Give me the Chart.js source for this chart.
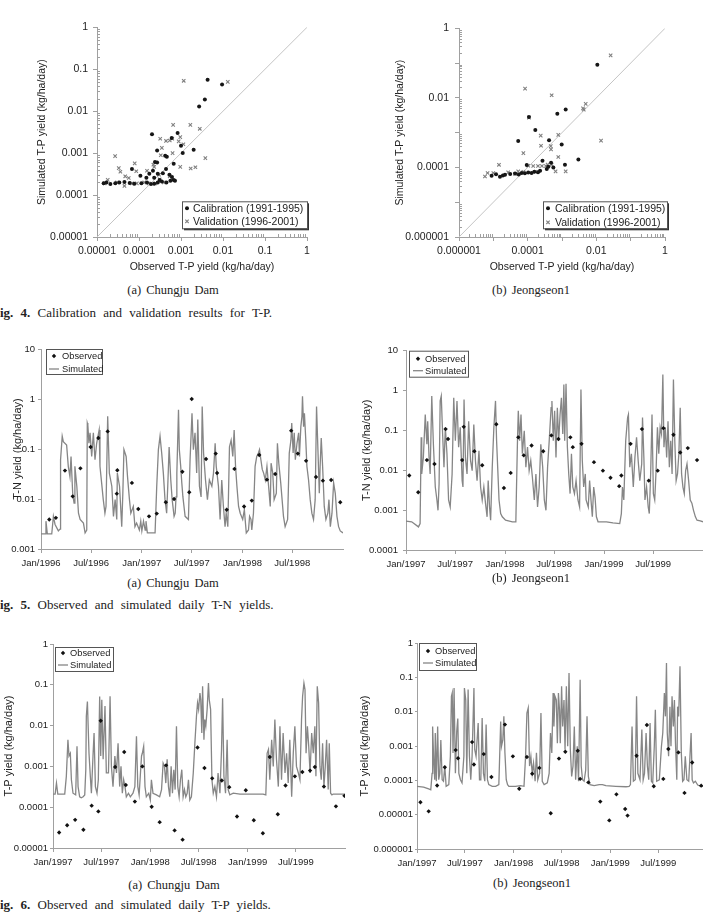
<!DOCTYPE html>
<html>
<head>
<meta charset="utf-8">
<script src="https://cdn.jsdelivr.net/npm/chart.js@4.4.1/dist/chart.umd.min.js"></script>
<style>
  body { margin: 0; width: 703px; height: 919px; overflow: hidden; background: #fff; position: relative;
         font-family: "Liberation Serif", "Times New Roman", serif; color: #222; }
  canvas { position: absolute; }
  .sub { position: absolute; width: 200px; text-align: center; font-size: 12.5px; word-spacing: 2px; line-height: 16px; }
  .fig { position: absolute; left: -8px; font-size: 13px; word-spacing: 4px; line-height: 16px; white-space: nowrap; }
</style>
</head>
<body>
<canvas id="fig4a"></canvas>
<canvas id="fig4b"></canvas>
<canvas id="fig5a"></canvas>
<canvas id="fig5b"></canvas>
<canvas id="fig6a"></canvas>
<canvas id="fig6b"></canvas>

<div class="sub" style="left:73px; top:282px">(a)  Chungju  Dam</div>
<div class="sub" style="left:431px; top:282px">(b)  Jeongseon1</div>
<div class="fig" style="top:305px"><b>Fig. 4.</b> Calibration and validation results for T-P.</div>
<div class="sub" style="left:73px; top:575px">(a)  Chungju  Dam</div>
<div class="sub" style="left:431px; top:570px">(b)  Jeongseon1</div>
<div class="fig" style="top:597px"><b>Fig. 5.</b> Observed and simulated daily T-N yields.</div>
<div class="sub" style="left:74px; top:877px">(a)  Chungju  Dam</div>
<div class="sub" style="left:432px; top:875px">(b)  Jeongseon1</div>
<div class="fig" style="top:897px"><b>Fig. 6.</b> Observed and simulated daily T-P yields.</div>

<script>
// Fig. 4 - [observed, simulated] T-P yield (kg/ha/day)
const tpCalibChungju = [
  [2.04e-4,2.8e-3],[4.3e-3,5.6e-2],[9.5e-3,4.3e-2],[3.7e-3,1.9e-2],[2.7e-3,1.3e-2],[2.0e-3,1.2e-3],
  [8.3e-4,3.0e-3],[6.0e-4,2.3e-3],[1.0e-3,1.5e-3],[1.1e-3,1.0e-3],[2.7e-4,1.15e-3],[4.2e-4,8.6e-4],
  [4.6e-4,8.2e-4],[6.7e-4,5.6e-4],[6.8e-5,4.2e-4],[2.4e-4,6.1e-4],[2.7e-4,6.0e-4],[2.15e-4,3.8e-4],
  [1.08e-4,2.9e-4],[1.5e-4,2.6e-4],[2.8e-4,3.2e-4],[3.7e-4,3.3e-4],[4.4e-4,4.2e-4],[5.3e-4,3.05e-4],
  [6.1e-4,2.7e-4],[6.7e-4,2.3e-4],[4.5e-4,2.0e-4],[3.1e-4,2.3e-4],[1.44e-5,1.9e-4],[1.67e-5,2.0e-4],
  [2.08e-5,1.84e-4],[2.73e-5,1.9e-4],[3.4e-5,2.0e-4],[4.5e-5,2.05e-4],[6.0e-5,1.95e-4],[7.7e-5,1.85e-4],
  [1.14e-4,1.9e-4],[1.55e-4,2.0e-4],[1.93e-4,1.84e-4],[2.3e-4,1.85e-4],[2.8e-4,2.0e-4],[3.5e-4,2.1e-4],
  [5.6e-4,2.2e-4],[7.2e-4,2.2e-4],[2.3e-4,2.6e-4],[1.76e-4,3.2e-4]
];
const tpValidChungju = [
  [1.16e-3,5.3e-2],[1.3e-2,5.0e-2],[6.5e-4,4.7e-3],[1.67e-3,4.7e-3],[2.8e-3,3.8e-3],[3.2e-4,2.2e-3],
  [4.4e-4,1.95e-3],[5.4e-4,2.0e-3],[6.2e-4,2.2e-3],[9.6e-4,2.4e-3],[8.8e-4,1.9e-3],[1.14e-3,1.63e-3],
  [3.5e-4,1.33e-3],[3.3e-4,8.9e-4],[6.3e-4,1.0e-3],[9.6e-4,4.7e-4],[1.7e-3,4.3e-4],[2.2e-3,4.6e-4],
  [3.8e-3,7.6e-4],[2.7e-5,8.5e-4],[3.3e-5,4.4e-4],[3.6e-5,3.6e-4],[7.9e-5,5.7e-4],[8.6e-5,3.7e-4],
  [1.55e-4,3.8e-4],[2.2e-4,5.3e-4],[2.3e-4,4.7e-4],[3.0e-4,3.05e-4],[3.1e-4,2.37e-4],[1.52e-5,1.9e-4],
  [1.8e-5,2.3e-4],[4.7e-5,2.8e-4],[4.5e-5,1.65e-4],[5.7e-5,2.55e-4],[8.9e-5,1.9e-4],[1.33e-4,2.0e-4],
  [1.7e-4,1.9e-4],[3.9e-4,2.0e-4],[5.4e-4,2.8e-4],[3.0e-5,2.0e-4],[6.8e-5,1.9e-4],[2.45e-4,1.9e-4]
];
const tpCalibJeongseon = [
  [1.07e-2,8.96e-2],[5.3e-5,5.8e-4],[1.09e-4,2.8e-3],[1.67e-4,1.19e-3],[7.3e-4,3.5e-3],[1.28e-3,4.6e-3],
  [4.2e-4,6.0e-4],[9.8e-4,4.6e-4],[2.7e-4,1.55e-4],[3.0e-3,1.69e-4],[1.22e-3,1.19e-4],[9.4e-5,1.17e-4],
  [4.8e-4,1.36e-4],[4.0e-4,1.04e-4],[8.9e-6,5.8e-5],[1.56e-5,5.4e-5],[2.19e-5,6.2e-5],[3.1e-5,6.5e-5],
  [4.3e-5,6.7e-5],[6.7e-5,6.9e-5],[1.04e-4,7.2e-5],[1.56e-4,7.5e-5],[2.3e-4,8.0e-5],[3.6e-4,9.0e-5],
  [5.6e-4,1.0e-4],[1.2e-5,6.4e-5],[1.9e-5,5.9e-5],[5.5e-5,6.3e-5],[8.3e-5,6.8e-5],[1.3e-4,6.9e-5],
  [2.0e-4,7.3e-5]
];
const tpValidJeongseon = [
  [2.61e-2,1.66e-1],[8.4e-5,1.85e-2],[5.0e-4,1.19e-2],[4.9e-3,6.7e-3],[4.1e-3,5.0e-3],[4.3e-3,4.6e-3],
  [1.09e-4,2.7e-3],[2.4e-4,8.2e-4],[7.8e-4,8.6e-4],[2.45e-4,4.2e-4],[4.7e-4,4.1e-4],[4.8e-4,3.3e-4],
  [1.37e-2,5.9e-4],[7.5e-5,2.57e-4],[7.8e-4,2.0e-4],[1.46e-5,1.19e-4],[1.28e-3,7.7e-5],[6.5e-4,7.7e-5],
  [5.7e-6,5.5e-5],[6.8e-6,6.9e-5],[1.0e-5,6.9e-5],[1.04e-4,1.12e-4],[1.45e-4,1.1e-4],[2.0e-4,1.1e-4],
  [2.6e-4,1.1e-4],[3.4e-4,1.1e-4],[3.8e-4,1.2e-4],[5.0e-4,1.2e-4],[5.3e-5,7.7e-5],[7.5e-5,7.5e-5],
  [1.7e-4,7.5e-5],[2.7e-5,7.2e-5],[4.3e-5,6.5e-5]
];
const oneToOneChungju = [[1e-5, 1e-5], [1, 1]];
const oneToOneJeongseon = [[1e-6, 1e-6], [1, 1]];

// Fig. 5 - T-N yield, [day from 1 Jan of first year, kg/ha/day]
const tnObsChungju = [
  [30,0.0039],[54,0.0042],[87,0.037],[115,0.0113],[143,0.041],[180,0.11],[208,0.166],[242,0.225],
  [275,0.0128],[277,0.0375],[330,0.021],[353,0.0063],[392,0.0045],[420,0.0051],[453,0.0086],[483,0.01],
  [513,0.035],[538,0.0136],[547,1.0],[599,0.063],[634,0.081],[639,0.033],[674,0.0061],[702,0.04],
  [737,0.0071],[765,0.0093],[792,0.076],[820,0.0244],[850,0.0316],[908,0.233],[932,0.081],[962,0.058],
  [998,0.0275],[1023,0.0233],[1053,0.024],[1086,0.0086]
];
const tnSimChungju = [
  [0,0.002],[15,0.002],[18,0.0036],[23,0.002],[39,0.002],[45,0.0045],[51,0.0031],[63,0.0023],[69,0.0025],
  [71,0.061],[77,0.18],[81,0.14],[93,0.12],[99,0.045],[105,0.028],[109,0.071],[115,0.013],[120,0.0083],
  [123,0.045],[130,0.018],[136,0.0052],[142,0.0039],[154,0.0033],[160,0.0021],[166,0.0024],[168,0.33],
  [170,0.3],[174,0.13],[178,0.21],[184,0.071],[190,0.21],[196,0.061],[202,0.13],[211,0.24],[214,0.045],
  [220,0.021],[226,0.0097],[232,0.0052],[236,0.0071],[242,0.45],[248,0.033],[257,0.018],[263,0.0045],
  [269,0.0097],[275,0.0039],[277,0.033],[285,0.018],[293,0.0028],[297,0.013],[301,0.097],[309,0.071],
  [314,0.028],[321,0.0097],[326,0.0052],[335,0.0071],[341,0.0028],[347,0.0033],[357,0.0024],[362,0.0036],
  [366,0.0023],[372,0.0036],[378,0.0024],[381,0.0036],[386,0.0021],[414,0.0021],[420,0.018],[426,0.097],
  [432,0.18],[438,0.083],[444,0.033],[450,0.0097],[456,0.0052],[460,0.018],[465,0.11],[471,0.024],
  [476,0.0097],[483,0.0045],[487,0.0052],[490,0.011],[493,0.033],[499,0.61],[502,0.097],[507,0.045],
  [511,0.021],[515,0.011],[523,0.0045],[535,0.0039],[541,0.061],[548,0.52],[553,0.097],[559,0.21],
  [565,0.033],[569,0.39],[575,0.018],[581,0.011],[585,0.71],[590,0.083],[597,0.024],[604,0.0097],
  [611,0.024],[620,0.018],[626,0.033],[632,0.13],[636,0.045],[644,0.018],[650,0.0039],[656,0.024],
  [662,0.0071],[668,0.0028],[672,0.0052],[678,0.0028],[684,0.11],[690,0.15],[696,0.071],[701,0.24],
  [706,0.045],[711,0.018],[717,0.0071],[723,0.0052],[732,0.0039],[738,0.0061],[745,0.0021],[753,0.0024],
  [757,0.0045],[762,0.0039],[765,0.0024],[771,0.0052],[777,0.045],[783,0.071],[789,0.083],[793,0.097],
  [798,0.061],[803,0.039],[808,0.033],[814,0.024],[820,0.045],[826,0.018],[832,0.0071],[835,0.052],
  [841,0.033],[846,0.0097],[854,0.013],[858,0.13],[863,0.052],[870,0.021],[880,0.0045],[886,0.0028],
  [895,0.0039],[901,0.083],[907,0.15],[910,0.33],[915,0.083],[919,0.21],[923,0.061],[929,0.13],
  [935,0.21],[938,0.071],[943,0.28],[947,0.45],[949,1.13],[953,0.28],[956,0.52],[961,0.15],[965,0.045],
  [971,0.024],[977,0.0097],[983,0.0052],[989,0.0039],[995,0.0097],[1000,0.71],[1005,0.097],[1010,0.013],
  [1013,0.045],[1017,0.166],[1022,0.045],[1028,0.0071],[1034,0.0039],[1041,0.0052],[1045,0.0097],
  [1050,0.0028],[1056,0.0052],[1062,0.021],[1068,0.013],[1074,0.0045],[1080,0.0028],[1086,0.0023],
  [1096,0.0021]
];
const tnObsJeongseon = [
  [12,0.0074],[45,0.0028],[77,0.018],[105,0.0144],[146,0.108],[155,0.061],[207,0.018],[213,0.123],
  [252,0.030],[281,0.0134],[333,0.143],[361,0.0036],[386,0.0086],[414,0.067],[434,0.0237],[463,0.042],
  [506,0.030],[536,0.075],[562,0.061],[606,0.067],[615,0.038],[647,0.046],[693,0.016],[726,0.0098],
  [754,0.0065],[786,0.004],[794,0.0074],[828,0.046],[870,0.108],[895,0.0055],[928,0.0098],[949,0.114],
  [986,0.078],[1011,0.028],[1039,0.036],[1073,0.018]
];
const tnSimJeongseon = [
  [0,0.00053],[21,0.00051],[46,0.00038],[52,0.00046],[56,0.067],[58,0.0081],[64,0.021],[71,0.25],
  [77,0.045],[80,0.17],[85,0.021],[89,0.0081],[95,0.73],[101,0.045],[108,0.0038],[114,0.0018],
  [118,0.00099],[122,0.0046],[126,0.55],[130,0.73],[135,0.081],[140,0.012],[145,0.12],[151,0.026],
  [157,0.0018],[163,0.0012],[170,0.0081],[176,0.66],[182,0.055],[188,0.55],[194,0.038],[200,0.12],
  [207,0.0055],[210,0.0038],[214,0.60],[219,0.021],[225,0.0081],[231,0.17],[238,0.0175],[244,0.0098],
  [250,0.14],[256,0.0175],[262,0.0055],[269,0.031],[275,0.0038],[281,0.0018],[287,0.0038],[293,0.0015],
  [299,0.00068],[303,0.0055],[308,0.0012],[312,0.00056],[318,0.012],[324,0.12],[330,0.55],[334,0.055],
  [338,0.012],[343,0.0018],[349,0.00082],[355,0.00068],[367,0.00056],[392,0.00051],[405,0.00051],
  [407,0.0026],[411,0.055],[414,0.31],[419,0.055],[424,0.25],[429,0.026],[436,0.098],[442,0.012],
  [448,0.038],[454,0.0098],[460,0.0175],[466,0.0067],[473,0.0018],[479,0.0081],[485,0.0012],[491,0.0038],
  [497,0.045],[504,0.012],[510,0.0018],[516,0.00099],[522,0.012],[528,0.055],[535,0.37],[538,0.55],
  [543,0.055],[548,0.31],[553,0.021],[558,0.37],[563,0.055],[568,0.25],[573,0.66],[578,0.081],[582,1.42],
  [585,0.055],[590,1.48],[595,0.038],[600,0.0081],[605,0.0026],[610,0.026],[615,0.0038],[621,0.0026],
  [627,0.0055],[634,0.0018],[640,0.0012],[645,1.07],[650,0.0175],[655,0.0038],[661,0.0081],[664,0.0018],
  [672,0.0012],[677,0.0055],[682,0.0018],[687,0.00068],[692,0.0038],[697,0.0021],[702,0.00068],
  [708,0.00051],[739,0.00051],[763,0.00048],[788,0.00046],[794,0.00082],[798,0.0038],[803,0.0018],
  [810,0.055],[817,0.21],[820,0.25],[825,0.012],[831,0.026],[838,0.0038],[844,0.021],[850,0.067],
  [856,0.0175],[862,0.0055],[869,0.0144],[872,0.21],[877,0.021],[881,0.0018],[887,0.0038],[893,0.0012],
  [897,0.00082],[902,0.0081],[907,0.25],[912,0.0026],[917,0.0018],[922,0.0098],[927,0.12],[932,0.026],
  [937,0.12],[942,0.081],[947,2.52],[951,0.038],[956,0.12],[961,0.021],[966,0.17],[971,0.012],[976,0.055],
  [981,0.0081],[986,1.89],[991,0.055],[996,0.0055],[1001,0.0081],[1006,0.026],[1011,0.37],[1016,0.0081],
  [1021,0.0038],[1026,0.0026],[1031,0.0098],[1036,0.0144],[1042,0.0055],[1048,0.0018],[1054,0.0015],
  [1060,0.00099],[1067,0.00068],[1073,0.00056],[1085,0.00054],[1095,0.00051]
];

// Fig. 6 - T-P yield, [day from 1 Jan 1997, kg/ha/day]
const tpObsChungju = [
  [23,2.4e-5],[53,3.6e-5],[83,4.9e-5],[114,2.8e-5],[145,1.09e-4],[170,7.9e-5],[179,0.0132],[233,9.7e-4],
  [267,2.25e-3],[273,3.5e-4],[307,1.37e-4],[335,1.0e-3],[370,1.03e-4],[400,4.3e-5],[424,1.06e-3],
  [456,2.7e-5],[486,1.6e-5],[542,2.9e-3],[568,9.1e-4],[597,5.1e-4],[633,4.5e-4],[661,3.1e-4],[690,5.9e-5],
  [723,2.6e-4],[753,4.8e-5],[787,2.3e-5],[813,1.7e-3],[843,6.7e-5],[872,3.4e-4],[907,5.7e-4],[935,7.3e-4],
  [964,7.9e-4],[982,9.7e-4],[1016,3.2e-4],[1061,1.05e-4],[1093,1.9e-4]
];
const tpSimChungju = [
  [0,0.00021],[8,0.00021],[13,0.00039],[18,0.00021],[44,0.00021],[50,0.00057],[56,0.0045],[60,0.0018],
  [65,0.0021],[69,0.00047],[75,0.00022],[85,0.0002],[90,0.0031],[94,0.00032],[100,0.00018],[106,0.00017],
  [113,0.00018],[119,0.0002],[123,0.00083],[125,0.017],[129,0.039],[135,0.0021],[140,0.00057],[144,0.00022],
  [150,0.0018],[154,0.0066],[159,0.00032],[165,0.00022],[170,0.00047],[175,0.052],[179,0.0018],[183,0.043],
  [188,0.0015],[195,0.030],[200,0.00069],[208,0.00069],[214,0.052],[219,0.001],[225,0.00032],[232,0.0018],
  [238,0.00069],[244,0.0037],[250,0.00032],[255,0.001],[260,0.00022],[265,0.00047],[270,0.00032],
  [275,0.00018],[283,0.00022],[290,0.00018],[300,0.00022],[307,0.00032],[313,0.0055],[318,0.00032],
  [323,0.0002],[328,0.00069],[332,0.0018],[335,0.0021],[340,0.0031],[345,0.00032],[350,0.00018],
  [359,0.00022],[365,0.00015],[369,0.00047],[375,0.00022],[388,0.0002],[400,0.00018],[407,0.00027],
  [413,0.0012],[418,0.001],[423,0.00039],[428,0.0015],[433,0.00032],[438,0.00018],[443,0.001],[448,0.00022],
  [453,0.00083],[458,0.00027],[463,0.0096],[468,0.00032],[473,0.00018],[478,0.00047],[483,0.00083],
  [488,0.00018],[493,0.00027],[498,0.00018],[503,0.00022],[508,0.00047],[513,0.00015],[519,0.00018],
  [526,0.00069],[532,0.0037],[538,0.017],[542,0.036],[546,0.025],[551,0.063],[554,0.043],[558,0.0066],
  [561,0.092],[566,0.0045],[569,0.014],[573,0.0096],[578,0.025],[583,0.11],[586,0.043],[591,0.025],
  [596,0.00047],[601,0.00022],[607,0.00032],[613,0.00018],[619,0.00069],[626,0.00022],[632,0.0026],
  [636,0.047],[641,0.00057],[647,0.00022],[653,0.0045],[657,0.00027],[663,0.0002],[676,0.00022],
  [701,0.00021],[788,0.00021],[798,0.0002],[803,0.0021],[808,0.0026],[813,0.00047],[820,0.0045],
  [826,0.001],[832,0.014],[838,0.0015],[845,0.00032],[851,0.0096],[857,0.00047],[863,0.0066],[870,0.00069],
  [876,0.0021],[882,0.00039],[888,0.0045],[895,0.00018],[901,0.0021],[907,0.0096],[913,0.001],[920,0.00069],
  [926,0.00047],[932,0.014],[936,0.052],[941,0.11],[945,0.076],[949,0.0021],[954,0.0096],[959,0.0031],
  [964,0.00069],[970,0.0066],[976,0.0021],[982,0.0096],[986,0.00057],[991,0.092],[996,0.036],[1001,0.001],
  [1006,0.00047],[1011,0.0037],[1016,0.00032],[1021,0.001],[1026,0.0045],[1032,0.00027],[1036,0.0037],
  [1041,0.00022],[1046,0.0002],[1051,0.00021],[1095,0.00021]
];
const tpObsJeongseon = [
  [13,2.3e-5],[44,1.25e-5],[76,7.1e-5],[105,2.4e-4],[146,7.6e-4],[155,4.4e-4],[208,1.3e-3],[215,2.9e-4],
  [252,5.8e-4],[281,1.25e-4],[332,4.2e-3],[362,5.0e-4],[386,5.7e-5],[415,4.8e-4],[435,1.56e-4],[462,2.3e-4],
  [505,1.1e-5],[536,4.3e-4],[560,6.8e-4],[607,7.3e-4],[616,1.1e-4],[647,8.7e-5],[692,2.4e-5],[726,6.8e-6],
  [753,3.9e-5],[786,1.46e-5],[795,9.4e-6],[829,5.2e-4],[868,4.1e-3],[894,6.7e-5],[930,1.1e-4],[949,8.2e-4],
  [987,6.5e-4],[1010,4.3e-5],[1039,3.3e-4],[1073,7.0e-5]
];
const tpSimJeongseon = [
  [0,6.7e-5],[25,6.3e-5],[44,5.6e-5],[52,5.3e-5],[57,1.6e-4],[59,0.0037],[63,4.0e-4],[67,1.04e-4],
  [69,0.0024],[73,9.4e-5],[78,0.0037],[82,1.04e-4],[86,1.6e-4],[90,0.0015],[95,1.04e-4],[100,9.4e-5],
  [105,2.6e-4],[110,6.7e-5],[120,7.5e-5],[126,5.0e-4],[130,0.028],[133,0.035],[136,6.3e-4],[140,0.049],
  [145,1.6e-4],[150,0.0027],[154,0.0063],[158,1.6e-4],[164,1.04e-4],[170,8.4e-5],[177,5.0e-4],[179,0.049],
  [184,0.022],[188,1.6e-4],[193,0.044],[198,5.0e-4],[203,1.04e-4],[208,5.0e-4],[215,0.049],[218,7.8e-4],
  [223,5.0e-4],[231,0.0047],[236,1.04e-4],[241,1.04e-4],[246,0.0065],[251,1.6e-4],[256,9.4e-5],[261,0.0042],
  [266,1.04e-4],[271,7.5e-5],[284,6.7e-5],[297,6.7e-5],[309,7.5e-5],[316,0.0052],[319,9.8e-4],[324,0.0015],
  [328,0.0073],[332,6.3e-4],[337,1.04e-4],[342,7.5e-5],[347,6.7e-5],[372,6.7e-5],[391,7.0e-5],[404,6.7e-5],
  [410,5.0e-4],[415,0.0091],[420,0.0128],[425,2.6e-4],[430,5.0e-4],[435,1.6e-4],[440,3.2e-4],[446,9.4e-5],
  [451,6.3e-4],[456,1.04e-4],[463,1.6e-4],[468,0.0091],[473,9.4e-5],[480,7.5e-5],[492,8.4e-5],[499,1.6e-4],
  [504,0.0024],[509,6.3e-4],[514,0.035],[517,0.0037],[521,0.028],[526,0.022],[530,0.0012],[534,0.035],
  [538,0.0114],[541,0.0012],[546,0.055],[550,0.0037],[555,0.022],[559,7.8e-4],[564,0.055],[569,9.8e-4],
  [574,0.134],[579,7.8e-4],[584,1.3e-4],[589,2.6e-4],[594,0.0037],[599,1.04e-4],[605,9.8e-4],[610,9.4e-5],
  [616,0.085],[620,2.6e-4],[625,1.04e-4],[631,9.4e-5],[637,2.0e-4],[642,0.0073],[647,1.3e-4],[653,7.5e-5],
  [669,7.0e-5],[688,7.5e-5],[700,7.5e-5],[713,7.0e-5],[751,6.7e-5],[789,6.5e-5],[801,6.7e-5],[806,7.5e-5],
  [812,0.0037],[817,9.4e-5],[824,1.04e-4],[829,0.028],[834,1.6e-4],[842,1.04e-4],[849,0.003],[854,1.04e-4],
  [859,1.6e-4],[865,0.0024],[870,2.6e-4],[875,1.04e-4],[880,0.0047],[885,9.4e-5],[890,8.4e-5],[896,9.8e-4],
  [900,0.0114],[905,9.4e-5],[915,1.04e-4],[923,9.8e-4],[928,0.0024],[934,0.035],[938,0.0073],[942,0.26],
  [945,0.0024],[950,5.0e-4],[955,0.014],[959,9.8e-4],[963,0.028],[968,0.0037],[972,0.022],[976,0.0012],
  [981,1.04e-4],[984,0.014],[988,0.0073],[993,0.21],[998,6.3e-4],[1003,9.4e-5],[1008,1.04e-4],[1013,5.0e-4],
  [1019,1.04e-4],[1026,9.4e-5],[1035,0.0024],[1039,1.04e-4],[1044,8.4e-5],[1051,9.4e-5],[1060,7.3e-5],
  [1073,6.7e-5],[1095,6.7e-5]
];

const ticks9698 = ['Jan/1996', 'Jul/1996', 'Jan/1997', 'Jul/1997', 'Jan/1998', 'Jul/1998'];
const ticks9799 = ['Jan/1997', 'Jul/1997', 'Jan/1998', 'Jul/1998', 'Jan/1999', 'Jul/1999'];

const AXIS = '#a0a0a0';
const TEXT = '#222';
const SANS = "'Liberation Sans', Arial, sans-serif";

Chart.defaults.font.family = SANS;
Chart.defaults.color = TEXT;

function toXY(pairs) {
  return pairs.map(p => ({ x: p[0], y: p[1] }));
}

function decadeLabel(e) {
  return e >= 0 ? String(Math.pow(10, e)) : Number('1e' + e).toFixed(-e);
}

function dayOf(label, startYear) {
  const [mon, year] = label.split('/');
  return (Date.UTC(+year, mon === 'Jan' ? 0 : 6, 1) - Date.UTC(startYear, 0, 1)) / 864e5;
}

function place(id, left, top, width, height) {
  const c = document.getElementById(id);
  c.width = width;
  c.height = height;
  c.style.left = left + 'px';
  c.style.top = top + 'px';
  return c;
}

function logAxis(minExp, maxExp, labelStep, o) {
  const exps = [];
  for (let e = minExp; e <= maxExp; e++) exps.push(e);
  return {
    type: 'logarithmic',
    min: Number('1e' + minExp),
    max: Number('1e' + maxExp),
    border: { color: AXIS },
    grid: { drawOnChartArea: false, color: AXIS, tickLength: o.tickLength },
    ticks: {
      padding: o.padding, color: TEXT, font: { size: o.size }, autoSkip: false, maxRotation: 0,
      callback: v => {
        const e = Math.round(Math.log10(v));
        return (e - minExp) % labelStep === 0 ? decadeLabel(e) : '';
      }
    },
    title: o.title
      ? { display: true, text: o.title, color: TEXT, font: { size: o.titleSize }, padding: o.titlePad }
      : { display: false },
    afterBuildTicks: s => { s.ticks = exps.map(e => ({ value: Number('1e' + e) })); },
    afterFit: s => {
      if (o.width) s.width = o.width;
      if (o.height) s.height = o.height;
    }
  };
}

function timeAxis(startYear, days, labels, o) {
  const pos = labels.map(l => dayOf(l, startYear));
  return {
    type: 'linear',
    min: 0,
    max: days,
    border: { color: AXIS },
    grid: { drawOnChartArea: false, color: AXIS, tickLength: o.tickLength },
    ticks: {
      padding: o.padding, color: TEXT, font: { size: o.size }, autoSkip: false, maxRotation: 0,
      callback: (v, i) => labels[i]
    },
    afterBuildTicks: s => { s.ticks = pos.map(v => ({ value: v })); },
    afterFit: s => { s.height = o.height; }
  };
}

// box legend drawn inside the plot area, offsets relative to chartArea
const boxLegend = {
  id: 'boxLegend',
  afterDraw(chart, args, opts) {
    if (!opts || !opts.w) return;
    const { ctx, chartArea } = chart;
    const x = chartArea.left + opts.x;
    const y = chartArea.top + opts.y;
    ctx.save();
    if (opts.shadow) {
      ctx.fillStyle = '#333';
      ctx.fillRect(x + 2, y + 2, opts.w, opts.h);
    }
    ctx.fillStyle = '#fff';
    ctx.fillRect(x, y, opts.w, opts.h);
    ctx.strokeStyle = '#555';
    ctx.lineWidth = 1;
    ctx.strokeRect(x + 0.5, y + 0.5, opts.w, opts.h);
    ctx.font = opts.size + 'px ' + SANS;
    ctx.textBaseline = 'middle';
    const items = chart.data.datasets.filter(d => d.label);
    items.forEach((ds, i) => {
      const cy = y + opts.rows[i];
      const mx = x + opts.markX;
      if (ds.showLine) {
        ctx.strokeStyle = ds.borderColor;
        ctx.lineWidth = ds.borderWidth;
        ctx.beginPath();
        ctx.moveTo(mx - 5, cy);
        ctx.lineTo(mx + 5, cy);
        ctx.stroke();
      } else {
        ctx.fillStyle = ds.backgroundColor;
        ctx.strokeStyle = ds.borderColor;
        ctx.lineWidth = ds.borderWidth;
        Chart.helpers.drawPoint(ctx, {
          pointStyle: ds.pointStyle, radius: ds.pointRadius, borderWidth: ds.borderWidth, rotation: 0
        }, mx, cy);
      }
      ctx.fillStyle = TEXT;
      ctx.fillText(ds.label, x + opts.textX, cy + 0.5);
    });
    ctx.restore();
  }
};

// small inside minor ticks on log axes (scatter plots)
const minorTicks = {
  id: 'minorTicks',
  afterDraw(chart, args, opts) {
    if (!opts || !opts.len) return;
    const { ctx, chartArea } = chart;
    ctx.save();
    ctx.strokeStyle = AXIS;
    ctx.lineWidth = 1;
    ['x', 'y'].forEach(id => {
      const s = chart.scales[id];
      const e0 = Math.round(Math.log10(s.min));
      const e1 = Math.round(Math.log10(s.max));
      for (let e = e0; e < e1; e++) {
        for (let k = 2; k <= 9; k++) {
          const p = Math.round(s.getPixelForValue(k * Math.pow(10, e))) + 0.5;
          ctx.beginPath();
          if (id === 'x') {
            ctx.moveTo(p, chartArea.bottom);
            ctx.lineTo(p, chartArea.bottom - opts.len);
          } else {
            ctx.moveTo(chartArea.left, p);
            ctx.lineTo(chartArea.left + opts.len, p);
          }
          ctx.stroke();
        }
      }
    });
    ctx.restore();
  }
};

Chart.register(boxLegend, minorTicks);

function scatterFig(id, geo, calib, valid, diag, axes, legend) {
  const canvas = place(id, geo.left, geo.top, geo.width, geo.height);
  return new Chart(canvas, {
    type: 'scatter',
    data: {
      datasets: [
        { label: 'Calibration (1991-1995)', data: toXY(calib), pointStyle: 'circle', pointRadius: 2,
          backgroundColor: '#161616', borderColor: '#161616', borderWidth: 0 },
        { label: 'Validation (1996-2001)', data: toXY(valid), pointStyle: 'crossRot', pointRadius: 2.4,
          backgroundColor: '#808080', borderColor: '#808080', borderWidth: 1.1 },
        { data: toXY(diag), showLine: true, pointRadius: 0, borderColor: '#c4c4c4', borderWidth: 1 }
      ]
    },
    options: {
      responsive: false,
      animation: false,
      layout: { autoPadding: false, padding: { top: geo.padTop, right: geo.padRight, left: 0, bottom: 0 } },
      scales: { x: axes.x, y: axes.y },
      plugins: {
        legend: { display: false },
        tooltip: { enabled: false },
        boxLegend: legend,
        minorTicks: { len: 3 }
      }
    }
  });
}

function seriesFig(id, geo, obs, sim, axes, legend) {
  const canvas = place(id, geo.left, geo.top, geo.width, geo.height);
  return new Chart(canvas, {
    type: 'scatter',
    data: {
      datasets: [
        { label: 'Observed', data: toXY(obs), pointStyle: 'rectRot', pointRadius: 2.2,
          backgroundColor: '#111', borderColor: '#111', borderWidth: 0 },
        { label: 'Simulated', data: toXY(sim), showLine: true, pointRadius: 0, tension: 0,
          borderColor: '#868686', borderWidth: 1.3 }
      ]
    },
    options: {
      responsive: false,
      animation: false,
      layout: { autoPadding: false, padding: { top: geo.padTop, right: geo.padRight, left: 0, bottom: 0 } },
      scales: { x: axes.x, y: axes.y },
      plugins: {
        legend: { display: false },
        tooltip: { enabled: false },
        boxLegend: legend
      }
    }
  });
}

const TP_TITLE_X = 'Observed T-P yield (kg/ha/day)';
const TP_TITLE_Y = 'Simulated T-P yield (kg/ha/day)';

// Fig. 4 (a)
scatterFig('fig4a', { left: 0, top: 16, width: 320, height: 262, padTop: 10, padRight: 13 },
  tpCalibChungju, tpValidChungju, oneToOneChungju,
  {
    x: logAxis(-5, 0, 1, { tickLength: 4, padding: 4, size: 10.5, height: 41, title: TP_TITLE_X,
      titleSize: 10.5, titlePad: { top: 0, bottom: 4.7 } }),
    y: logAxis(-5, 0, 1, { tickLength: 4, padding: 5, size: 10.5, width: 97, title: TP_TITLE_Y,
      titleSize: 10.5, titlePad: { top: 35.7, bottom: 0 } })
  },
  { x: 85, y: 174, w: 125, h: 27, shadow: true, rows: [7, 20], markX: 5, textX: 11, size: 10.5 });

// Fig. 4 (b)
scatterFig('fig4b', { left: 352, top: 16, width: 326, height: 262, padTop: 11, padRight: 13 },
  tpCalibJeongseon, tpValidJeongseon, oneToOneJeongseon,
  {
    x: logAxis(-6, 0, 2, { tickLength: 4, padding: 4, size: 10.5, height: 41, title: TP_TITLE_X,
      titleSize: 10.5, titlePad: { top: 0, bottom: 4.7 } }),
    y: logAxis(-6, 0, 2, { tickLength: 4, padding: 6, size: 10.5, width: 107, title: TP_TITLE_Y,
      titleSize: 10.5, titlePad: { top: 41.7, bottom: 0 } })
  },
  { x: 84, y: 173, w: 124, h: 27, shadow: true, rows: [7, 21], markX: 5, textX: 12, size: 10.5 });

// Fig. 5 (a)
seriesFig('fig5a', { left: 0, top: 340, width: 350, height: 235, padTop: 9, padRight: 7 },
  tnObsChungju, tnSimChungju,
  {
    x: timeAxis(1996, 1096, ticks9698, { tickLength: 4, padding: 5, size: 9.5, height: 26 }),
    y: logAxis(-3, 1, 1, { tickLength: 3, padding: 3, size: 9.5, width: 41,
      title: 'T-N yield (kg/ha/day)', titleSize: 11, titlePad: { top: 11.4, bottom: 0 } })
  },
  { x: 5, y: 0, w: 56, h: 25, rows: [7, 20], markX: 8, textX: 16, size: 9.3 });

// Fig. 5 (b)
seriesFig('fig5b', { left: 352, top: 340, width: 351, height: 236, padTop: 9, padRight: 0 },
  tnObsJeongseon, tnSimJeongseon,
  {
    x: timeAxis(1997, 1095, ticks9799, { tickLength: 4, padding: 5, size: 9.5, height: 26 }),
    y: logAxis(-4, 1, 1, { tickLength: 3, padding: 5, size: 9.5, width: 54,
      title: 'T-N yield (kg/ha/day)', titleSize: 11, titlePad: { top: 8.4, bottom: 0 } })
  },
  { x: 3, y: 0, w: 59, h: 26, rows: [8, 20], markX: 9, textX: 16, size: 9.3 });

// Fig. 6 (a)
seriesFig('fig6a', { left: 0, top: 634, width: 352, height: 240, padTop: 10, padRight: 7 },
  tpObsChungju, tpSimChungju,
  {
    x: timeAxis(1997, 1095, ticks9799, { tickLength: 4, padding: 5, size: 9.5, height: 26 }),
    y: logAxis(-5, 0, 1, { tickLength: 3, padding: 2, size: 9.5, width: 53,
      title: 'T-P yield (kg/ha/day)', titleSize: 11, titlePad: { top: 2.4, bottom: 0 } })
  },
  { x: 2, y: 3, w: 58, h: 24, rows: [6, 18], markX: 8, textX: 15, size: 9.3 });

// Fig. 6 (b)
seriesFig('fig6b', { left: 352, top: 633, width: 355, height: 242, padTop: 10, padRight: 0 },
  tpObsJeongseon, tpSimJeongseon,
  {
    x: timeAxis(1997, 1095, ticks9799, { tickLength: 4, padding: 5, size: 9.5, height: 26 }),
    y: logAxis(-6, 0, 1, { tickLength: 2, padding: 2, size: 9.5, width: 65,
      title: 'T-P yield (kg/ha/day)', titleSize: 11, titlePad: { top: 6.4, bottom: 0 } })
  },
  { x: 2, y: 0, w: 57, h: 27, rows: [8, 20], markX: 9, textX: 16, size: 9.3 });
</script>
</body>
</html>
